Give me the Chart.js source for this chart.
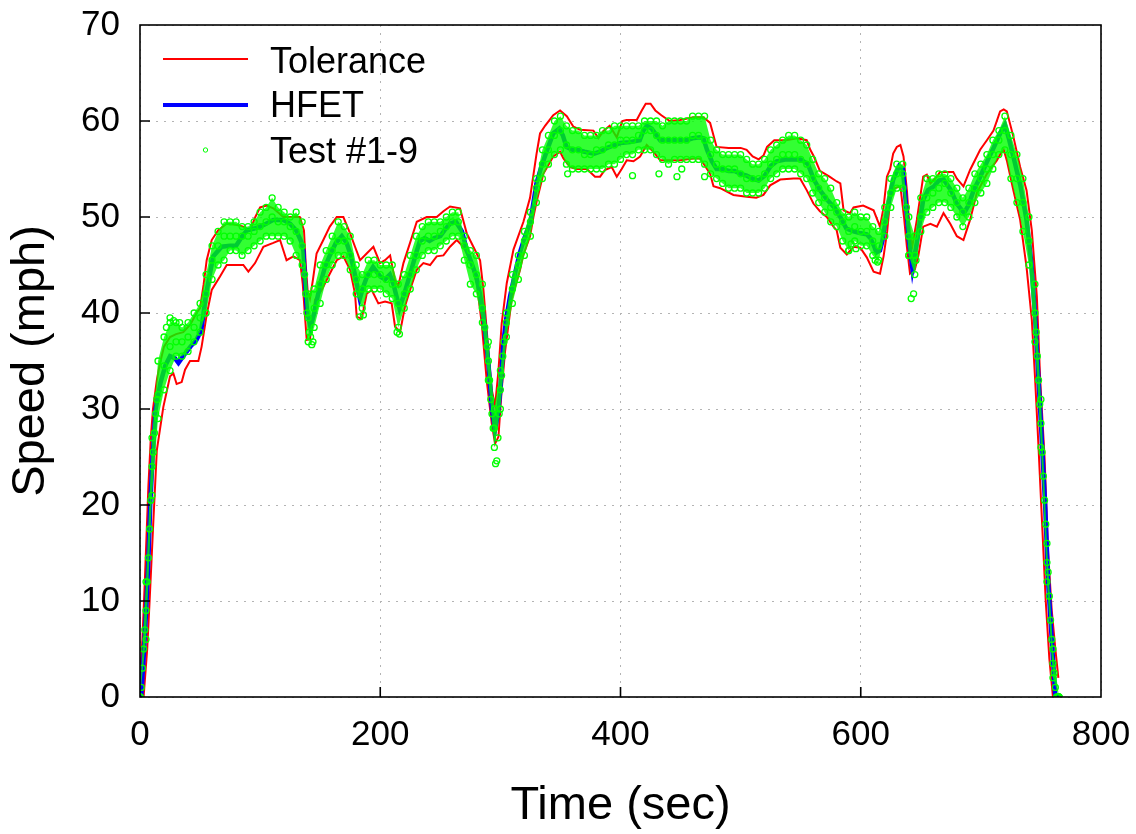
<!DOCTYPE html>
<html>
<head>
<meta charset="utf-8">
<title>HFET speed trace</title>
<script src="https://cdn.jsdelivr.net/npm/chart.js@4.4.1/dist/chart.umd.min.js"></script>
<style>
  html, body { margin: 0; padding: 0; background: #ffffff; }
  #container { width: 1136px; height: 834px; }
</style>
</head>
<body>
<div id="container"><canvas id="chart" width="1136" height="834"></canvas></div>
<script>
"use strict";

// HFET reference trace (sec, mph)
const hfetTime = [0, 1, 3, 5.5, 7, 8.5, 10.5, 13, 17, 21, 25, 29, 32, 36, 42, 47, 51, 55, 61, 68,
  75, 80, 85, 89, 95, 100, 105, 111, 119, 125, 130, 134, 136, 137.5, 139, 142, 145, 150, 154, 158,
  163, 168, 172, 175, 180, 183, 186, 189, 194, 200, 204, 208, 211, 214, 216, 220, 225, 230, 233, 237,
  241, 245, 250, 254, 258, 263, 268, 272, 276, 280, 283, 286, 290, 293, 295.5, 298, 300, 302.5, 305, 308,
  312, 316, 320, 325, 330, 334, 339, 344, 349, 352, 355, 360, 364, 370, 378, 383, 389, 395, 400, 408,
  416, 419, 422, 426, 430, 433, 440, 444, 450, 455, 460, 466, 469, 472, 476, 480, 485, 490, 495, 500,
  505, 510, 515, 520, 525, 530, 538, 545, 550, 556, 561, 566, 572, 578, 583, 588, 594, 600, 605, 608,
  611, 613, 616, 618, 622, 627, 632, 635, 637, 640, 643, 647, 652, 656, 661, 665, 669, 675, 680, 686,
  690, 694, 698, 702, 706, 711, 716, 720, 723, 727, 733, 738, 742, 745, 748, 750, 753.5, 756, 759, 762, 765];
const hfetSpeed = [0, 0, 4, 10, 14.3, 20, 25, 30, 32.7, 34.5, 35.5, 35.3, 34.8, 35.5, 36.5, 37.2, 38.2, 42, 45.9, 46.9,
  47, 47, 48, 48.6, 48.8, 49, 49.3, 49.7, 49.7, 49.3, 48.6, 47.5, 46.5, 43, 40.3, 38.5, 40, 43, 44.8, 46,
  47.3, 48, 47.3, 46.2, 43.4, 41.5, 42.8, 43.8, 44.8, 43.8, 43.5, 44, 43, 41.5, 40.5, 42, 44.1, 46.3, 47.5, 47.8,
  47.5, 47.8, 48, 48.7, 49.3, 49.5, 48.5, 46.6, 45.2, 43.8, 42, 39.6, 34.8, 30, 27.8, 29.5, 32, 36.9, 39.5, 41.7,
  44, 46.2, 47.8, 49.5, 53.5, 55.2, 57, 58.7, 59.2, 58.5, 57.3, 57, 57, 56.8, 56.6, 56.8, 57.2, 57.5, 57.7, 57.8,
  58, 59, 59.5, 59.2, 58.5, 58, 58, 58, 58, 58, 58.2, 58.3, 58.2, 57, 55.8, 55, 55, 54.8, 54.8, 54.5,
  54.3, 54, 53.8, 54.3, 55.3, 55.8, 56, 56, 56, 55.5, 53.9, 52.8, 51.8, 51, 50, 48.8, 48.5, 48.3, 48.2, 47.8,
  47, 46.3, 46.5, 47.5, 50.7, 53.9, 55.3, 55, 52.3, 47.6, 44.6, 47.6, 51.8, 52.8, 53.2, 53.8, 53.9, 52.8, 51.4, 50.4,
  51.3, 52.8, 53.8, 54.9, 56, 57.3, 58.7, 59.6, 58.3, 56.3, 53.2, 49.7, 45.2, 40, 33, 28.5, 20, 12, 6, 0, 0];

// upper tolerance band
const upperTime = [0, 2, 4, 7, 9, 10.8, 14, 16.7, 20, 25, 30, 36, 42, 47, 50, 53, 55.5, 59.7, 65, 72,
  80, 86, 91.6, 96, 100, 105.5, 111, 119.3, 125, 133, 136.5, 138, 139.5, 141.5, 144, 147, 152.6, 158, 163.8, 169.3,
  174.9, 179, 183.2, 188.7, 194.3, 199.8, 204, 208.2, 212.3, 215, 219.3, 224.8, 230.4, 238.7, 247, 252.6, 258.1, 266.4, 272, 277.5,
  283.1, 285.9, 290, 292.8, 295.6, 298.4, 301.1, 305.3, 310.9, 319.2, 324.7, 330, 333, 337.2, 344, 349.7, 355.3, 360.8, 366.4, 377.5,
  381.6, 386, 391, 396.9, 401.5, 405, 413.5, 417.7, 421, 425, 429, 434, 441, 449.6, 460.7, 469, 474.6, 480, 490, 500,
  505, 510, 515, 519, 522, 528, 538, 547, 555, 558, 561, 566, 574, 580, 583, 585.7, 591, 594, 602, 610.7,
  616, 619, 621.8, 624.5, 627, 630, 633, 635.6, 638.4, 641, 643, 646.7, 652, 655, 658, 663.4, 666, 677, 680, 685.5,
  691, 699.4, 705, 710.5, 716, 719, 721.6, 727, 732.7, 738, 742.4, 746.6, 749.4, 753, 756, 759, 762, 764.5];
const upperSpeed = [2, 6, 12, 22, 27, 30, 33, 34.8, 36.5, 37.5, 37.8, 38, 38.8, 40, 40.5, 43, 45.5, 47.6, 48.6, 49.3,
  49.2, 49, 48.6, 50, 51, 51.2, 50.9, 50, 50, 50, 48.6, 45, 42.4, 41.5, 43.5, 46.2, 47.6, 49, 50, 50,
  48.3, 46.9, 45.5, 46.2, 46.9, 45.2, 45.5, 46, 43.4, 42.8, 45.2, 47.3, 49.5, 50, 50, 50.6, 51.1, 50.9, 48.3, 46.9,
  45.5, 42.4, 36.1, 32, 30.3, 34, 38.9, 43.1, 46.6, 49.5, 52, 56.5, 58.7, 59.5, 60.6, 61.1, 60.5, 59.4, 59.1, 59,
  58.2, 59, 59.5, 58.3, 60, 60.1, 60.1, 61.1, 61.8, 61.8, 61.1, 60.6, 60, 60.1, 60.4, 60.4, 59.8, 57.3, 57.2, 57.2,
  57, 56.3, 56, 56.4, 57.3, 58, 58, 58.2, 58, 57, 56.3, 54.8, 54.2, 53.7, 53.5, 50.7, 50.4, 51, 51.2, 50.7,
  49, 51, 54.2, 55, 56.6, 57.3, 57.5, 56.3, 52.8, 48, 47, 49.7, 54.2, 54.4, 53.5, 54.2, 54.7, 54.7, 54, 53.2,
  54.9, 57, 58, 59, 61, 61.2, 61, 58.4, 55.2, 52.8, 48.6, 41.7, 33, 25, 15, 9, 5, 2];

// lower tolerance band
const lowerTime = [0, 3, 6, 8, 11, 14, 19.4, 25, 27.8, 30.5, 34.7, 37.5, 41.6, 48.6, 51.3, 55.5, 59.7, 66.6, 72.2, 80.5,
  86, 90.2, 95.8, 102.7, 111, 116.6, 122, 127.7, 133.2, 135.5, 137.4, 138.8, 141.5, 143, 145.7, 151.3, 156.8, 163.8, 169.3, 174.9,
  179, 180.4, 184.6, 188.7, 192.9, 198.4, 204, 209.5, 212.3, 216.5, 220.6, 224.8, 230.4, 235.9, 241.5, 247, 252.6, 258.1, 263.7, 269.2,
  274.8, 280.3, 284.5, 288.6, 292.8, 295.6, 298.4, 301.1, 303.9, 309.5, 316.4, 319, 324.7, 327.5, 330, 335.8, 344, 349.7, 352.5, 358,
  363.6, 372, 378.8, 383, 387, 392.7, 396.9, 401, 405.2, 410.8, 416.3, 421.8, 427.4, 433, 449.6, 460.7, 466.3, 474.6, 477.4, 483,
  494, 505, 513, 519, 524.6, 533, 544, 549.5, 555, 560.6, 566, 571.7, 577.3, 580, 583, 588.4, 594, 599.6, 605, 610.7,
  616, 619, 622, 624.5, 628, 633, 636, 638.4, 641, 645, 648, 652, 658, 663.4, 668.9, 674.5, 680, 685.5, 691, 696.6,
  705, 713.3, 716, 719, 721.6, 727, 732.7, 738, 742.4, 745.2, 748, 751, 754, 757, 760, 765];
const lowerSpeed = [0, 0, 5, 10, 18, 25.7, 30.2, 33.4, 33.7, 32.6, 32.8, 34.1, 35, 35, 36.5, 39.8, 42.4, 43.8, 45, 45,
  45, 44.3, 45.2, 46.9, 47.3, 47.6, 45.5, 45.9, 45.5, 43, 39.6, 37.2, 37.3, 38.9, 41.4, 42.4, 43.8, 45.5, 45.9, 44.5,
  42, 39.6, 39.4, 42, 42.4, 41, 41.2, 41, 38.6, 38, 40.7, 42.4, 44.5, 45.2, 45, 45.9, 46, 46.9, 47.6, 46.9,
  45.5, 43.1, 38.9, 33, 28.5, 26.4, 27.1, 32, 36, 41.5, 44.5, 46, 48, 50, 51.5, 54.5, 56.3, 56.8, 56.1, 55.2,
  55, 55, 54.2, 54.2, 54.9, 55.2, 54.2, 55, 55.9, 55.8, 56.3, 57.5, 56.8, 55.9, 55.9, 56.1, 56.1, 54.5, 53.2, 53,
  52.3, 52.1, 52, 52.3, 53.3, 53.9, 54, 54, 52.8, 51.4, 50.6, 50, 49, 48.6, 46.8, 46.1, 46.9, 46.8, 45.8, 44.3,
  44.1, 45.9, 48.5, 51.8, 53, 53.2, 50, 46.9, 44.1, 44.5, 46, 49, 49.3, 49, 50.4, 49.3, 48, 47.6, 49.7, 52.5,
  54.5, 55.9, 56.5, 57, 55.9, 52.8, 49.7, 44.8, 39.3, 33, 26, 18, 10, 4, 0, 0];

// Test #1-9 cloud, read every 5 s: top edge, middle and bottom edge
const testTime = [0, 5, 10, 15, 20, 25, 30, 35, 40, 45, 50, 55, 60, 65, 70, 75, 80, 85, 90, 95,
  100, 105, 110, 115, 120, 125, 130, 135, 140, 145, 150, 155, 160, 165, 170, 175, 180, 185, 190, 195,
  200, 205, 210, 215, 220, 225, 230, 235, 240, 245, 250, 255, 260, 265, 270, 275, 280, 285, 290, 295,
  300, 305, 310, 315, 320, 325, 330, 335, 340, 345, 350, 355, 360, 365, 370, 375, 380, 385, 390, 395,
  400, 405, 410, 415, 420, 425, 430, 435, 440, 445, 450, 455, 460, 465, 470, 475, 480, 485, 490, 495,
  500, 505, 510, 515, 520, 525, 530, 535, 540, 545, 550, 555, 560, 565, 570, 575, 580, 585, 590, 595,
  600, 605, 610, 615, 620, 625, 630, 635, 640, 645, 650, 655, 660, 665, 670, 675, 680, 685, 690, 695,
  700, 705, 710, 715, 720, 725, 730, 735, 740, 745, 750, 755, 760, 765];
const testHigh = [0, 12, 27, 35, 37.5, 39, 39, 38.5, 39, 40, 41, 44, 47, 48.5, 49.5, 49.5, 49.5, 49, 49, 49.5,
  50.5, 51, 52, 51, 50.5, 50, 50.5, 49.5, 42, 42.5, 45, 46.5, 48, 49.5, 49, 48, 45, 44, 45.5, 45.5,
  45, 45, 45, 43, 44, 46, 48, 49, 49.5, 49.5, 49.5, 50, 50.5, 50.5, 48, 46.5, 46, 43, 37, 30,
  34, 40, 44, 46, 48.5, 50.5, 54, 57, 58.5, 60, 60.5, 59.5, 59, 59, 58.5, 58.5, 58.5, 59, 59, 59.5,
  59.5, 59.5, 59.5, 59.5, 60, 60, 60, 59.5, 60, 60, 60, 60, 60.5, 60.5, 60.5, 58, 57, 56.5, 56.5, 56.5,
  56.5, 56, 55.5, 55.5, 56, 57, 57.5, 58, 58.5, 58.5, 58, 57.5, 56, 54.5, 54, 53, 51.5, 50.5, 50, 50.5,
  50, 50, 49, 48.5, 51, 54, 55.5, 55.5, 50, 48, 52, 54, 54, 54.5, 54.5, 54, 53, 52, 53, 54.5,
  55.5, 56.5, 58, 59, 60.5, 58.5, 56.5, 54, 50, 43, 31, 16, 5, 0];
const testMid = [0, 9, 24, 31.5, 34.5, 36.5, 37, 37, 37.5, 38.5, 39.5, 42, 45.5, 47, 48, 48, 48, 48, 48, 48.5,
  49, 49.5, 50, 49.5, 49.5, 49, 48.5, 47, 39.5, 40.5, 43, 45, 46.5, 47.5, 47.5, 46, 43.5, 42.5, 44, 44,
  44, 43.5, 43, 41, 42, 44, 46, 47.5, 48, 48, 48.5, 49, 49.5, 49.5, 47, 45, 44, 40.5, 35, 28,
  32, 39, 42.5, 45, 47.5, 49.5, 53, 55.5, 57, 58.5, 59, 57.5, 57, 57, 56.5, 56.5, 57, 57, 57.5, 57.5,
  58, 58, 58, 58.5, 59, 59, 58.5, 58, 58, 58, 58, 58, 58.5, 58.5, 58, 56.5, 55.5, 55, 55, 55,
  54.5, 54, 54, 54, 54.5, 55.5, 56, 56.5, 56.5, 56.5, 56, 55.5, 54, 53, 52, 51, 50.5, 49.5, 48.5, 49,
  48.5, 48.5, 47.5, 47, 49.5, 52.5, 54.5, 54.5, 48, 46, 50, 52, 52.5, 53, 53.5, 52.5, 51.5, 50.5, 51.5, 53,
  54, 55, 56.5, 58, 59, 56.5, 54, 51.5, 47.5, 40, 28.5, 14, 3.5, 0];
const testLow = [0, 6, 21, 29, 32, 34, 35.5, 35.5, 36, 37, 38, 40, 43.5, 45, 45.5, 46.5, 46.5, 46, 46.5, 47,
  47.5, 48, 48, 48, 48, 47.5, 46, 45, 37, 38.5, 41, 43.5, 45, 46, 46, 44.5, 42, 40.5, 42.5, 42.5,
  42.5, 42, 41.5, 38.5, 40.5, 42.5, 44.5, 46, 46.5, 46.5, 47, 47.5, 48, 48, 45.5, 43, 42, 39, 33, 26,
  30, 37.5, 41, 43.5, 46, 48, 51.5, 54, 55.5, 56.5, 57, 55.5, 55, 55, 55, 55, 55, 55, 55.5, 55.5,
  56, 56.5, 56.5, 57, 57, 57, 56.5, 56, 55.5, 56, 56, 56, 56, 56, 55.5, 54.5, 54, 53.5, 53, 53,
  53, 52.5, 52.5, 52.5, 53, 54, 54.5, 55, 55, 55, 54.5, 54, 52.5, 51.5, 50.5, 49.5, 49, 47.5, 46.5, 47.5,
  47, 47, 46, 45.5, 48, 51, 53, 53, 46, 44, 48.5, 50.5, 51, 51.5, 51.5, 51, 50, 49, 50, 51.5,
  52.5, 53.5, 55, 56.5, 57, 54, 51.5, 48.5, 45, 37, 26, 12, 2, 0];

// test points on the steep parts and stray points outside the cloud
const testExtraTime = [1, 2, 3, 4, 6, 7, 8, 9, 11, 12, 13, 14, 22, 25, 28, 33, 137, 138, 139, 141,
  142, 143, 144, 183, 186, 214, 216, 287, 289, 291, 292, 293, 294, 296, 297, 298, 299, 301, 302, 303,
  356, 410, 432, 447, 451, 470, 590, 592, 596, 612, 614, 638, 640, 642, 644, 646, 746, 747, 748, 749,
  751, 752, 753, 754, 756, 757, 758, 759, 761, 762, 763, 764];
const testExtraSpeed = [1, 3, 5, 7, 12, 14.5, 17.5, 20.5, 25.5, 27.5, 29.5, 31, 38.5, 39.5, 39.2, 39, 44, 42, 40, 38,
  37.5, 36.7, 37, 39.6, 39.8, 38, 37.8, 38.5, 36.5, 33, 31, 29.5, 28, 24.3, 24.6, 27, 29.5, 33.5, 35.5, 37,
  54.5, 54.3, 54.5, 54.2, 55, 54.2, 46.5, 47.2, 46.7, 45.5, 45.3, 51, 46, 41.5, 42, 45.5, 38, 35.5, 33, 30.5,
  25.5, 23, 20.5, 18, 13, 10.5, 8, 6, 2.5, 1, 0, 0];

const xTicks = [0, 200, 400, 600, 800];
const yTicks = [0, 10, 20, 30, 40, 50, 60, 70];

const legendLabels = ["Tolerance", "HFET", "Test #1-9"];

const RED = "#ff0000";
const BLUE = "#0000ff";
const GREEN = "#00ff00";
const FONT = "'Liberation Sans', Arial, Helvetica, sans-serif";

const toPoints = (xs, ys) => xs.map((x, i) => ({ x: x, y: ys[i] }));

const lineSet = (data, color, width, order) => ({
  data: data,
  borderColor: color,
  borderWidth: width,
  pointRadius: 0,
  tension: 0,
  fill: false,
  order: order,
});

const testSet = (data, fill) => ({
  data: data,
  showLine: false,
  borderColor: GREEN,
  backgroundColor: "rgba(0,255,0,0.8)",
  pointRadius: 3,
  pointBorderWidth: 1.3,
  pointBorderColor: GREEN,
  pointBackgroundColor: "rgba(0,0,0,0)",
  fill: fill,
  order: 1,
});

const noPadding = scale => {
  scale.paddingLeft = 0;
  scale.paddingRight = 0;
  scale.paddingTop = 0;
  scale.paddingBottom = 0;
};

// frame, inward tick marks and legend
const framePlugin = {
  id: "frame",
  afterDatasetsDraw(chart) {
    const { ctx, chartArea: a } = chart;
    const xs = chart.scales.x;
    const ys = chart.scales.y;
    ctx.save();
    ctx.strokeStyle = "#000000";
    ctx.lineWidth = 1.6;
    ctx.strokeRect(a.left, a.top, a.right - a.left, a.bottom - a.top);
    ctx.beginPath();
    xTicks.slice(1, -1).forEach(v => {
      const px = xs.getPixelForValue(v);
      ctx.moveTo(px, a.bottom);
      ctx.lineTo(px, a.bottom - 10);
    });
    yTicks.slice(1, -1).forEach(v => {
      const py = ys.getPixelForValue(v);
      ctx.moveTo(a.left, py);
      ctx.lineTo(a.left + 10, py);
    });
    ctx.stroke();

    // legend
    const lx0 = a.left + 23, lx1 = a.left + 108, tx = a.left + 130;
    ctx.font = "36px " + FONT;
    ctx.fillStyle = "#000000";
    ctx.textBaseline = "alphabetic";
    ctx.textAlign = "left";
    ctx.strokeStyle = RED;
    ctx.lineWidth = 1.8;
    ctx.beginPath(); ctx.moveTo(lx0, a.top + 34); ctx.lineTo(lx1, a.top + 34); ctx.stroke();
    ctx.fillText(legendLabels[0], tx, a.top + 48);
    ctx.strokeStyle = BLUE;
    ctx.lineWidth = 4;
    ctx.beginPath(); ctx.moveTo(lx0, a.top + 80); ctx.lineTo(lx1, a.top + 80); ctx.stroke();
    ctx.fillText(legendLabels[1], tx, a.top + 92);
    ctx.strokeStyle = GREEN;
    ctx.lineWidth = 1;
    ctx.beginPath(); ctx.arc((lx0 + lx1) / 2, a.top + 125, 2.2, 0, Math.PI * 2); ctx.stroke();
    ctx.fillText(legendLabels[2], tx, a.top + 138);
    ctx.restore();
  },
};

document.addEventListener("DOMContentLoaded", function () {
  const canvasElement = document.getElementById("chart");
  Chart.defaults.font.family = FONT;
  Chart.defaults.color = "#000000";

  new Chart(canvasElement, {
    type: "line",
    data: {
      datasets: [
        lineSet(toPoints(upperTime, upperSpeed), RED, 2, 3),
        lineSet(toPoints(lowerTime, lowerSpeed), RED, 2, 3),
        lineSet(toPoints(hfetTime, hfetSpeed), BLUE, 4.5, 2),
        testSet(toPoints(testTime, testHigh), 5),
        testSet(toPoints(testTime, testMid), false),
        testSet(toPoints(testTime, testLow), false),
        testSet(toPoints(testExtraTime, testExtraSpeed), false),
      ],
    },
    options: {
      responsive: false,
      animation: false,
      events: [],
      layout: { padding: { top: 25, right: 35, left: 0, bottom: 0 } },
      scales: {
        x: {
          type: "linear",
          min: 0,
          max: 800,
          afterBuildTicks: scale => { scale.ticks = xTicks.map(v => ({ value: v })); },
          afterFit: scale => { scale.height = 137; noPadding(scale); },
          border: { display: false, dash: [2, 6] },
          grid: {
            color: "#b4b4b4",
            lineWidth: 1,
            drawTicks: false,
          },
          ticks: { font: { size: 35 }, padding: 17, maxRotation: 0 },
          title: {
            display: true,
            text: "Time (sec)",
            font: { size: 47 },
            padding: { top: 0, bottom: 0 },
          },
        },
        y: {
          min: 0,
          max: 70,
          afterBuildTicks: scale => { scale.ticks = yTicks.map(v => ({ value: v })); },
          afterFit: scale => { scale.width = 140; noPadding(scale); },
          border: { display: false, dash: [2, 6] },
          grid: {
            color: "#b4b4b4",
            lineWidth: 1,
            drawTicks: false,
          },
          ticks: { font: { size: 35 }, padding: 20 },
          title: {
            display: true,
            text: "Speed (mph)",
            font: { size: 47 },
            padding: { top: 3, bottom: 0 },
          },
        },
      },
      plugins: {
        legend: { display: false },
        tooltip: { enabled: false },
      },
    },
    plugins: [framePlugin],
  });
});
</script>
</body>
</html>
